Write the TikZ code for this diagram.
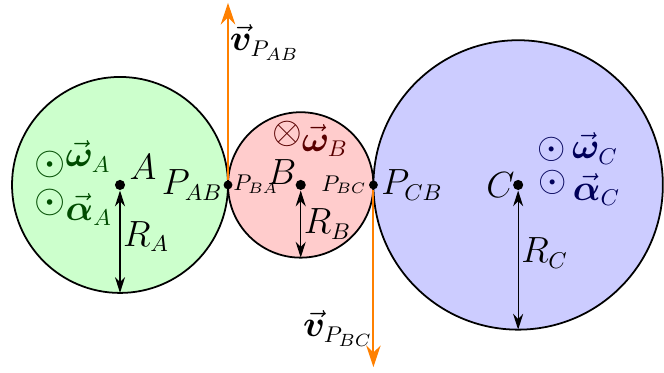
\documentclass[tikz,border=0pt]{standalone}
\usepackage{amsmath,amssymb,bm}
\usetikzlibrary{arrows.meta,positioning,calc}
\tikzset{
  disk/.style={draw, circle, line width=0.7pt, inner sep=0pt, outer sep=0pt},
  dot/.style={fill, circle, inner sep=0pt, minimum size=4pt},
  rad/.style={{Stealth[length=2.2mm,width=1.4mm]}-{Stealth[length=2.2mm,width=1.4mm]}, line width=0.5pt},
  vel/.style={-{Stealth[length=3mm,width=2mm]}, draw=orange, line width=0.8pt},
  lab/.style={font=\fontsize{13.5}{16}\selectfont, inner sep=2pt},
  sublab/.style={font=\fontsize{9}{11}\selectfont, inner sep=1pt},
}
\newcommand{\bigdot}{\mathord{\scalebox{1.1}{$\odot$}}}
\newcommand{\bigcross}{\mathord{\scalebox{1.05}{$\otimes$}}}
\begin{document}
\begin{tikzpicture}
\useasboundingbox (-1.667,-2.611) rectangle (7.556,2.569);
% discos
\node[disk, minimum size=3cm, fill=green!20] (cA) at (0,0) {};
\node[disk, minimum size=2.02cm, fill=red!20, right=0pt of cA] (cB) {};
\node[disk, minimum size=4.02cm, fill=blue!20, right=0pt of cB] (cC) {};
% centros
\node[dot] (A) at (cA.center) {};
\node[dot] (B) at (cB.center) {};
\node[dot] (C) at (cC.center) {};
\node[lab, above right=-1.5pt and 0pt of A] (lA) {$A$};
\node[lab, above left=-3.5pt and -2pt of B] (lB) {$B$};
\node[lab, left=-3pt of C] (lC) {$C$};
% raios
\draw[rad] (A) -- node[lab, right=-1pt, pos=.45]{$R_A$} (cA.south);
\draw[rad] (B) -- node[lab, right=-1pt]{$R_B$} (cB.south);
\draw[rad] (C) -- node[lab, right=-1pt, pos=.45]{$R_C$} (cC.south);
% pontos de contato
\node[dot, minimum size=3.5pt] (PAB) at (cA.east) {};
\node[dot, minimum size=3.5pt] (PBC) at (cB.east) {};
\node[lab, left=-2pt of PAB] (lPAB) {$P_{AB}$};
\node[sublab, below right=-6.5pt and -0.5pt of PAB] (lPBA) {$P_{BA}$};
\node[sublab, left=-0.5pt of PBC] (lPBC) {$P_{BC}$};
\node[lab, right=-1pt of PBC] (lPCB) {$P_{CB}$};
% velocidades
\coordinate (vAB) at ($(PAB)+(0,2.53)$);
\coordinate (vBC) at ($(PBC)+(0,-2.53)$);
\draw[vel] (PAB) -- (vAB);
\draw[vel] (PBC) -- (vBC);
\node[lab] (lvAB) at (2.01,1.98) {$\vec{\bm v}_{P_{AB}}$};
\node[lab] (lvBC) at (3.03,-1.99) {$\vec{\bm v}_{P_{BC}}$};
% rotacoes
\node[lab, text=green!30!black] (wA) at (-0.66,0.36) {$\bigdot\raisebox{3pt}{$\vec{\bm\omega}_A$}$};
\node[lab, text=green!30!black] (aA) at (-0.65,-0.31) {$\raisebox{3pt}{$\bigdot$}\vec{\bm\alpha}_A$};
\node[lab, text=red!35!black] (wB) at (2.64,0.64) {$\raisebox{3pt}{$\bigcross$}\vec{\bm\omega}_B$};
\node[lab, text=blue!35!black] (wC) at (6.36,0.51) {$\odot\,\vec{\bm\omega}_C$};
\node[lab, text=blue!35!black] (aC) at (6.38,-0.04) {$\raisebox{3.5pt}{$\odot$}\,\vec{\bm\alpha}_C$};
\end{tikzpicture}
\end{document}
